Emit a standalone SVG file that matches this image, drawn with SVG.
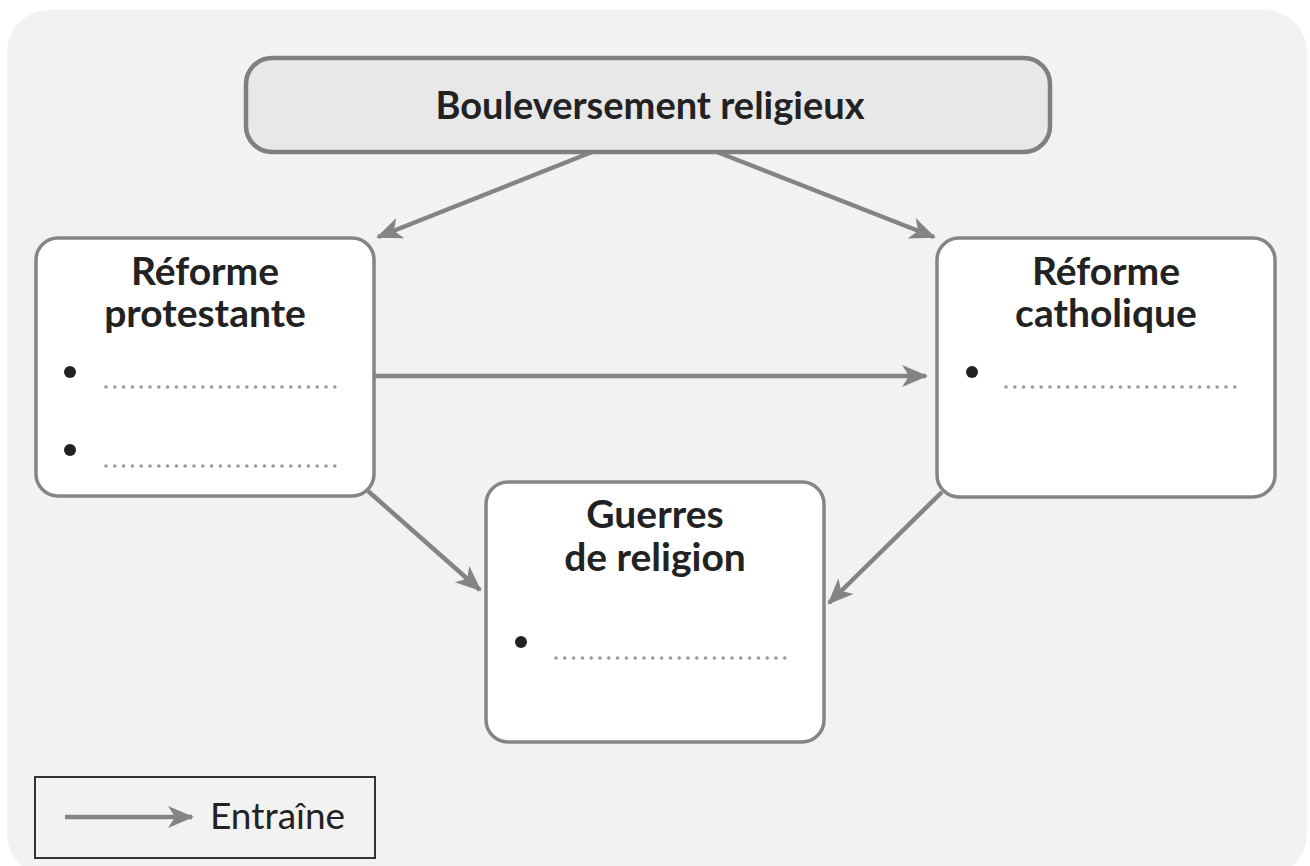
<svg xmlns="http://www.w3.org/2000/svg" width="1310" height="866" viewBox="0 0 1310 866">
<style>
.box{fill:#fff;stroke:#858585;stroke-width:3.5}
.top{fill:#e8e8e8;stroke:#808080;stroke-width:4.5}
.t{font-family:Lato,"Open Sans","Liberation Sans",sans-serif;font-weight:bold;fill:#222;text-anchor:middle}
.c{stroke:#848484;stroke-width:4.5;fill:none;marker-end:url(#ah)}
.dots{stroke:#9a9a9a;stroke-width:3.6;stroke-linecap:round;stroke-dasharray:0 8.8}
.bul{fill:#222}
</style>
<defs>
<marker id="ah" markerUnits="userSpaceOnUse" markerWidth="28" markerHeight="24" refX="24" refY="11" orient="auto">
<path d="M0,0 L26,11 L0,22 L7,11 z" fill="#848484"/>
</marker>
</defs>
<rect x="0" y="0" width="1310" height="866" fill="#fff"/>
<rect x="7" y="10" width="1300" height="866" rx="42" fill="#f2f2f2"/>
<g id="connectors">
<line class="c" x1="592" y1="152" x2="378" y2="237"/>
<line class="c" x1="717" y1="152" x2="934" y2="237"/>
<line class="c" x1="375" y1="376" x2="926" y2="376"/>
<line class="c" x1="368" y1="491" x2="480" y2="590"/>
<line class="c" x1="942" y1="492" x2="829" y2="603"/>
</g>
<g id="n-top">
<rect class="top" x="246" y="58" width="804" height="94" rx="26"/>
<text class="t" x="650" y="119" font-size="38">Bouleversement religieux</text>
</g>
<g id="n-protestante">
<rect class="box" x="36" y="238" width="338" height="258" rx="22"/>
<text class="t" x="205" y="285" font-size="39">Réforme</text>
<text class="t" x="205" y="327" font-size="39">protestante</text>
<circle class="bul" cx="70" cy="372" r="6"/>
<line class="dots" x1="106" y1="387" x2="336" y2="387"/>
<circle class="bul" cx="70" cy="450" r="6"/>
<line class="dots" x1="106" y1="466" x2="336" y2="466"/>
</g>
<g id="n-catholique">
<rect class="box" x="937" y="238" width="338" height="259" rx="22"/>
<text class="t" x="1106" y="285" font-size="39">Réforme</text>
<text class="t" x="1106" y="327" font-size="39">catholique</text>
<circle class="bul" cx="972" cy="372" r="6"/>
<line class="dots" x1="1006" y1="387" x2="1236" y2="387"/>
</g>
<g id="n-guerres">
<rect class="box" x="486" y="482" width="338" height="260" rx="22"/>
<text class="t" x="655" y="528" font-size="39">Guerres</text>
<text class="t" x="655" y="571" font-size="39">de religion</text>
<circle class="bul" cx="521" cy="642" r="6"/>
<line class="dots" x1="556" y1="658" x2="786" y2="658"/>
</g>
<g id="legend">
<rect x="35" y="777" width="340" height="81" fill="none" stroke="#333" stroke-width="2"/>
<line class="c" x1="65" y1="817" x2="192" y2="817"/>
<text x="210" y="829" font-family="Lato,'Open Sans','Liberation Sans',sans-serif" font-size="37" fill="#222">Entraîne</text>
</g>
</svg>
